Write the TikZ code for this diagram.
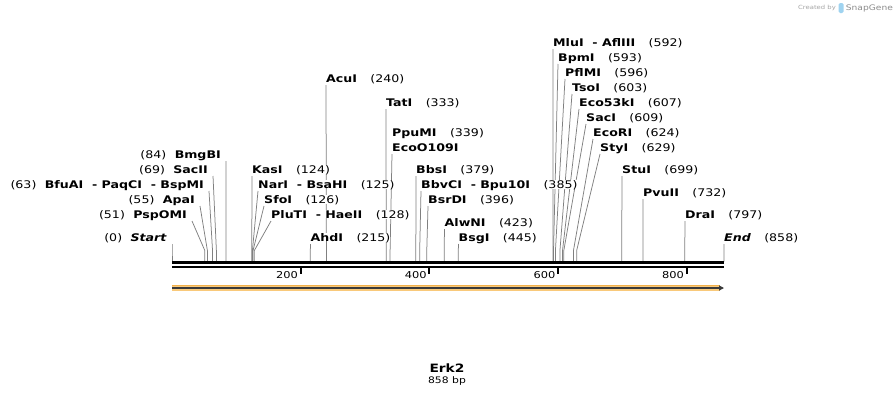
\documentclass[tikz,border=0pt]{standalone}
\usepackage{fontspec}
\setmainfont{DejaVu Sans}[FakeStretch=1.2]
\usetikzlibrary{arrows.meta,positioning,backgrounds}

\definecolor{cutgray}{HTML}{808080}
\definecolor{featfill}{HTML}{F9C97A}
\definecolor{featedge}{HTML}{F2B14C}
\definecolor{featline}{HTML}{3A3A3A}
\definecolor{logoblue}{HTML}{9FD3F0}

\tikzset{
  enzname/.style={font=\fontsize{10.5}{12}\selectfont\bfseries, inner sep=0pt, fill=white},
  sitenum/.style={font=\fontsize{10.5}{12}\selectfont, inner sep=0pt, fill=white},
  cutline/.style={draw=cutgray, line width=0.75pt},
  ticklbl/.style={font=\fontsize{9.5}{10}\selectfont, inner sep=0pt},
}

% labels right of their line: key/text/site/label x/label y
\newcommand\rightsites{%
  MluI/MluI~ - AflIII/592/553/42, BpmI/BpmI/593/558/57, PflMI/PflMI/596/565/72,
  TsoI/TsoI/603/572/87, Eco53kI/Eco53kI/607/579/102, SacI/SacI/609/586/117,
  EcoRI/EcoRI/624/593/132, StyI/StyI/629/600/147, StuI/StuI/699/622/169,
  PvuII/PvuII/732/643/192, DraI/DraI/797/685/214, End/\textit{End}/858/724/237,
  AcuI/AcuI/240/326/78, TatI/TatI/333/386/102, KasI/KasI/124/252/169,
  NarI/NarI~ - BsaHI/125/258/184, SfoI/SfoI/126/264/199,
  PluTI/PluTI~ - HaeII/128/271/214, AhdI/AhdI/215/310.5/237,
  BbsI/BbsI/379/416/169, BbvCI/BbvCI~ - Bpu10I/385/421/184,
  BsrDI/BsrDI/396/428/199, AlwNI/AlwNI/423/444.5/222, BsgI/BsgI/445/458.5/237}
% labels left of their line: key/text/site/label right edge/label y
\newcommand\leftsites{%
  BmgBI/BmgBI/84/221/154, SacII/SacII/69/208/169,
  BfuAI/BfuAI~ - PaqCI~ - BspMI/63/204/184, ApaI/ApaI/55/195/199,
  PspOMI/PspOMI/51/187/214, Start/\textit{Start}/0/167/237}

\begin{document}
\begin{tikzpicture}[x=1pt,y=-1pt]
\useasboundingbox (0,0) rectangle (896,400);

% sequence line
\coordinate (b0) at (172,262.8);
\coordinate (b1) at (724,262.8);
\draw[line width=3pt] (b0) -- (b1);
\draw[line width=2pt] ([yshift=-3.9pt]b0) -- ([yshift=-3.9pt]b1);
\foreach \t in {200,400,600,800}{
  \coordinate (t\t) at ({172+\t*0.64336},267);
  \draw[line width=2pt] (t\t) -- ++(0,7);
  \node[ticklbl, anchor=base east] (tl\t) at ([xshift=-2.5pt,yshift=-11.5pt]t\t) {\t};
}

% enzyme labels
\foreach \k/\txt/\num/\lx/\ly in \rightsites {
  \node[enzname, anchor=base west] (l-\k) at (\lx,\ly+4) {\txt};
  \node[sitenum, anchor=base west] (n-\k) at ([xshift=13pt]l-\k.base east) {(\num)};
  \coordinate (s-\k) at ({172+\num*0.64336},261.5);
}
\foreach \k/\txt/\num/\rx/\ly in \leftsites {
  \node[enzname, anchor=base east] (l-\k) at (\rx,\ly+4) {\txt};
  \node[sitenum, anchor=base east] (n-\k) at ([xshift=-8pt]l-\k.base west) {(\num)};
  \coordinate (s-\k) at ({172+\num*0.64336},261.5);
}
\node[enzname, anchor=base west] (l-PpuMI) at (392,136) {PpuMI};
\node[sitenum, anchor=base west] (n-PpuMI) at ([xshift=13pt]l-PpuMI.base east) {(339)};
\node[enzname, anchor=base west] (l-EcoO109I) at (392,151) {EcoO109I};
\coordinate (s-PpuMI) at ({172+339*0.64336},261.5);

% cut lines behind the labels
\begin{pgfonlayer}{background}
  \fill[white] (0,0) rectangle (896,400);
  \foreach \k/\txt/\num/\lx/\ly in \rightsites
    \draw[cutline] ([yshift=-3pt]l-\k.base west) -- ([yshift=11pt]s-\k) -- (s-\k);
  \foreach \k/\txt/\num/\rx/\ly in \leftsites
    \draw[cutline] ([xshift=5pt,yshift=-3pt]l-\k.base east) -- ([yshift=11pt]s-\k) -- (s-\k);
  \draw[cutline] ([yshift=-3pt]l-EcoO109I.base west) -- ([yshift=11pt]s-PpuMI) -- (s-PpuMI);
\end{pgfonlayer}

% feature
\coordinate (f0) at (172,288);
\coordinate (f1) at (720,288);
\draw[featedge, line width=6.5pt] (f0) -- (f1);
\draw[featfill, line width=5pt] (f0) -- (f1);
\draw[featline, line width=1.1pt, -{Triangle[length=5pt,width=5pt]}] (f0) -- ([xshift=4pt]f1);

% name and length
\node[font=\fontsize{11.5}{13}\selectfont\bfseries, inner sep=0pt] (title) at (447,368) {Erk2};
\node[font=\fontsize{9}{10}\selectfont, inner sep=0pt, below=4pt of title] (len) {858 bp};

% credit
\node[font=\fontsize{5.7}{7}\selectfont, text=black!35, inner sep=0pt] (credit) at (817,8) {Created by};
\node[fill=logoblue, rounded corners=1.5pt, minimum width=5pt, minimum height=10pt, inner sep=0pt] (logo) at (841,8) {};
\node[font=\fontsize{7.6}{9}\selectfont, text=black!45, inner sep=0pt, right=2pt of logo] (snap) {SnapGene};
\end{tikzpicture}
\end{document}
